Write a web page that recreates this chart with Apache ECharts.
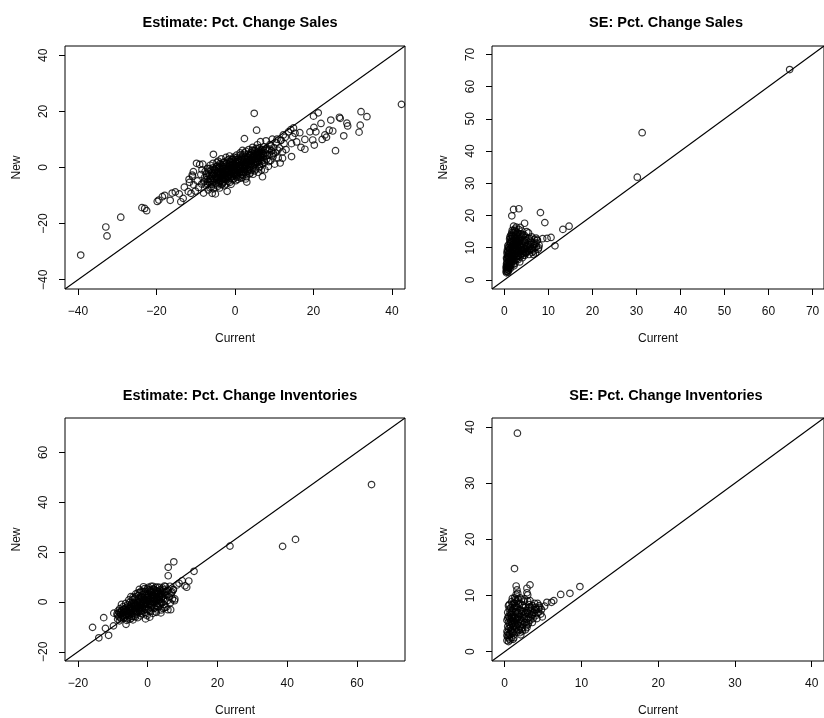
<!DOCTYPE html>
<html>
<head>
<meta charset="utf-8">
<script src="https://cdn.jsdelivr.net/npm/echarts@6/dist/echarts.min.js"></script>
<style>
html,body{margin:0;padding:0;background:#fff;}
#c{width:824px;height:718px;}
</style>
</head>
<body>
<div id="c"></div>
<script>
// ---- titles / axis names ----
const titles = ["Estimate: Pct. Change Sales", "SE: Pct. Change Sales", "Estimate: Pct. Change Inventories", "SE: Pct. Change Inventories"];
const xName = "Current";
const yName = "New";

// ---- axis limits (same for x and y in each panel) ----
const limits1 = [-43.3, 43.3];
const limits2 = [-2.8, 72.6];
const limits3 = [-23.7, 73.8];
const limits4 = [-1.65, 41.6];

// ---- tick values ----
const ticks1 = [-40, -20, 0, 20, 40];
const ticks2 = [0, 10, 20, 30, 40, 50, 60, 70];
const ticks3 = [-20, 0, 20, 40, 60];
const ticks4 = [0, 10, 20, 30, 40];

// ---- Panel 1: Estimate: Pct. Change Sales  [current, new] ----
const sales_est = [
[-39.3,-31.2],[-32.9,-21.2],[-32.6,-24.4],[-29.1,-17.7],[-23.7,-14.3],[-23.0,-14.6],[-22.5,-15.4],[-19.8,-12.1],[-19.4,-11.6],[-18.5,-10.4],[-17.9,-9.9],[-16.5,-11.7],[-16.0,-9.1],[-15.2,-8.7],[-13.8,-12.2],[-13.2,-11.0],[-14.2,-9.4],[-12.9,-7.0],[-11.7,-4.2],[-10.9,-2.7],[-9.8,1.5],[-9.0,1.1],[-10.6,-1.5],[-11.9,-8.6],[-11.2,-9.2],[-5.8,-9.2],
[-10.5,-6.2],[-10.1,-8.4],[-9.6,-4.8],[-9.3,-7.1],[-8.7,-2.5],[-8.5,-5.9],[-8.2,1.2],[-8.0,-9.1],[-7.8,-3.6],[-11.6,-5.3],[-10.8,-3.2],
[-7.6,-1.4],[-7.4,-6.3],[-7.1,-4.2],[-7.0,-0.3],[-6.8,-8.0],[-6.6,-2.8],[-6.5,-5.4],[-6.3,0.8],[-6.2,-3.9],[-6.0,-6.9],[-5.9,-1.9],[-5.8,-4.6],[-5.6,1.5],[-5.5,-7.6],[-5.4,-2.4],[-5.3,-5.1],[-5.2,-0.6],[-5.1,-3.3],[-5.0,-9.4],[-5.5,4.7],[-7.3,-2.1],[-6.9,-5.0],[-6.4,-7.2],[-6.1,-1.0],[-5.7,-3.0],[-7.9,-5.2],[-8.4,-0.8],
[-4.8,-1.2],[-4.7,-4.0],[-4.6,-6.2],[-4.5,0.6],[-4.4,-2.7],[-4.3,2.3],[-4.2,-5.0],[-4.1,-0.2],[-4.0,-3.6],[-3.9,-7.3],[-3.8,1.4],[-3.7,-1.9],[-3.6,-4.6],[-3.5,3.1],[-3.4,-0.8],[-3.3,-2.9],[-3.2,-5.8],[-3.1,0.4],[-3.0,-3.8],[-2.9,1.9],[-2.8,-1.5],[-2.7,-6.5],[-2.6,-2.4],[-2.5,0.9],[-2.4,-4.3],[-2.3,3.6],[-2.2,-0.5],[-2.1,-3.1],[-2.0,-8.5],[-4.9,-3.1],[-4.3,-1.7],[-3.7,-3.2],[-3.3,-1.3],[-2.9,-2.2],[-2.5,-3.5],[-4.6,1.8],[-3.9,0.0],[-3.0,-0.4],[-2.2,1.5],[-4.1,-5.6],[-2.8,-5.1],
[-1.9,-1.8],[-1.8,2.6],[-1.7,-4.9],[-1.6,0.2],[-1.5,-2.6],[-1.4,4.1],[-1.3,-0.9],[-1.2,-3.7],[-1.1,1.6],[-1.0,-6.0],[-0.9,-0.1],[-0.8,2.9],[-0.7,-2.1],[-0.6,-4.4],[-0.5,1.0],[-0.4,-1.2],[-0.3,3.7],[-0.2,-3.0],[-0.1,0.5],[0.0,-1.6],[0.1,2.1],[0.2,-4.7],[0.3,-0.3],[0.4,4.4],[0.5,-2.5],[0.6,1.3],[0.7,-1.0],[0.8,3.0],[0.9,-3.4],[1.0,0.1],[-1.6,-1.1],[-1.2,0.7],[-0.8,-1.5],[-0.4,0.3],[0.0,0.9],[0.4,-1.8],[0.8,0.6],[-1.9,-3.2],[-1.0,-2.6],[-0.1,-2.2],[0.6,-2.9],[-0.6,1.9],[0.2,2.8],[-1.4,1.2],
[1.1,-1.9],[1.2,2.4],[1.3,5.2],[1.4,-0.6],[1.5,-3.8],[1.6,1.1],[1.7,3.6],[1.8,-1.4],[1.9,0.5],[2.0,-2.8],[2.1,4.5],[2.2,1.9],[2.3,-0.2],[2.4,10.3],[2.5,2.9],[2.6,-1.8],[2.7,0.9],[2.8,5.8],[2.9,-3.3],[3.0,-5.2],[3.1,1.7],[3.2,3.9],[3.3,-0.7],[3.4,2.4],[3.5,6.4],[3.6,0.2],[3.7,-2.3],[3.8,4.7],[3.9,1.2],[1.3,0.4],[1.7,-2.5],[2.1,-0.9],[2.5,0.3],[2.9,2.0],[3.3,1.0],[3.7,2.8],[1.5,3.0],[2.3,3.3],[3.1,-1.4],[1.9,6.1],[2.7,-4.1],
[4.0,2.1],[4.1,-1.1],[4.2,5.3],[4.3,0.6],[4.4,3.5],[4.5,7.2],[4.6,-2.4],[4.7,1.6],[4.8,4.2],[4.9,19.3],[5.0,0.9],[5.1,6.0],[5.2,2.8],[5.3,-0.5],[5.4,4.9],[5.5,13.3],[5.6,1.9],[5.7,8.1],[5.8,3.4],[5.9,-1.7],[6.0,5.6],[6.1,2.4],[6.2,7.0],[6.3,0.3],[6.4,4.0],[6.5,9.2],[6.6,2.9],[6.7,-0.9],[6.8,5.0],[6.9,1.4],[7.0,-3.3],[4.3,2.7],[4.9,3.8],[5.5,3.1],[6.1,4.5],[4.6,5.9],[5.3,1.2],[5.9,6.6],[6.6,6.2],
[7.1,3.6],[7.3,7.4],[7.5,1.8],[7.7,5.2],[7.9,9.5],[8.1,3.0],[8.3,6.4],[8.5,0.4],[8.7,4.6],[8.9,8.2],[9.1,2.5],[9.3,5.9],[9.5,10.1],[9.7,3.9],[9.9,7.1],[10.1,1.2],[10.3,5.3],[10.5,8.8],[7.4,4.3],[8.0,6.9],[8.6,2.1],[9.2,7.6],[9.8,5.0],[7.6,-0.8],
[10.7,10.1],[11.0,3.4],[11.3,7.0],[11.7,9.7],[12.1,5.6],[12.1,3.3],[12.5,8.5],[12.8,10.8],[11.5,1.6],[12.3,11.6],[13.0,6.4],[10.9,6.2],[13.6,12.7],[15.3,12.2],[14.4,3.9],
[42.4,22.5],[32.1,19.9],[33.6,18.1],[31.9,15.1],[31.6,12.6],[28.5,15.8],[28.7,14.8],[26.6,17.9],[26.8,17.5],[24.4,16.9],[27.7,11.3],[25.6,6.0],[24.9,13.0],[24.0,13.3],[21.9,15.7],[21.2,19.5],[20.0,18.3],[20.1,14.3],[20.6,12.7],[19.1,12.7],[22.9,11.6],[22.2,10.0],[19.8,9.8],[17.8,10.0],[17.8,6.5],[16.8,7.2],[20.2,8.0],[14.7,11.0],[14.9,14.1],[14.2,13.5],[16.5,12.4],[11.7,9.7],[14.4,8.5],[15.7,9.1],[23.3,10.8],
[-7.7,-4.9],[-7.2,-3.1],[-6.7,-1.6],[-6.3,-4.4],[-5.9,-6.0],[-5.6,-2.1],[-5.3,-4.0],[-5.0,-0.9],[-4.8,-5.5],[-4.6,-2.3],[-4.4,-4.3],[-4.2,0.1],[-4.0,-1.5],[-3.8,-2.6],[-3.6,-0.4],[-3.4,-4.1],[-3.2,-2.0],[-3.0,-5.2],[-2.8,0.3],[-2.6,-3.9],[-2.4,-1.1],[-2.2,-2.7],[-2.0,0.6],[-1.8,-0.6],[-1.6,-3.4],[-1.4,-1.9],[-1.2,2.2],[-1.0,-0.4],[-0.8,-3.3],[-0.6,0.0],[-0.4,-2.4],[-0.2,1.4],[0.0,-0.5],[0.2,0.7],[0.4,-3.4],[0.6,2.3],[0.8,-0.6],[1.0,1.8],[1.2,-1.0],[1.4,0.9],[1.6,-0.3],[1.8,2.7],[2.0,0.0],[2.2,-1.6],[2.4,1.2],[2.6,3.8],[2.8,0.6],[3.0,2.6],[3.2,-0.5],[3.4,3.5],[3.6,1.6],[3.8,-0.8],[4.0,4.4],[4.2,1.3],[4.4,2.4],[4.6,0.2],[4.8,2.9],[5.0,4.8],[5.2,1.7],[5.4,3.3],[5.6,5.4],[5.8,2.0],[6.0,3.7],[6.2,1.0],[6.4,5.3],[6.6,3.9],[6.8,2.2],[7.0,6.4],[7.2,4.8],[7.4,2.7],[7.8,6.1],[8.2,4.4],[8.8,6.6],[9.4,4.4],
[-6.0,-3.0],[-5.2,-1.8],[-4.5,-3.5],[-3.8,-4.9],[-3.1,-3.0],[-2.4,-2.0],[-1.7,-1.4],[-1.0,0.3],[-0.3,-0.7],[0.3,1.6],[1.0,-1.0],[1.7,1.9],[2.4,-0.6],[3.1,3.2],[3.8,0.5],[4.5,4.0],[5.2,2.2],[5.9,4.3],[6.6,4.6],[-7.0,-6.0],[-6.6,-0.5],[-5.6,-0.1],[-4.7,0.3],[-3.5,0.9],[-2.6,1.9],[-1.5,3.0],[-0.5,3.0],[0.5,3.6],[1.4,4.5],[2.4,5.2],[3.4,4.8],[4.4,6.2],[5.4,6.8],[-4.4,-6.7],[-3.4,-6.1],[-2.3,-5.9],[-1.3,-5.3],[-0.3,-4.0],[0.7,-4.2],[1.8,-3.5],[2.8,-2.4],[3.9,-2.0],[5.0,-1.2],[6.0,-0.2]
];

// ---- Panel 2: SE: Pct. Change Sales ----
const sales_se = [
[64.8,65.3],[31.3,45.7],[30.2,31.9],[14.7,16.7],[13.3,15.7],[11.5,10.6],[10.6,13.2],[9.7,12.9],[8.7,12.8],[7.5,12.4],[8.2,20.9],[9.2,17.8],[3.3,22.1],[2.1,21.9],[1.7,19.9],[4.6,17.6],[7.8,10.0],[7.2,13.0],[2.1,16.7],
[0.4,2.6],[0.5,3.3],[0.6,2.9],[0.7,4.1],[0.5,5.0],[0.8,3.6],[0.9,5.6],[0.6,6.4],[0.7,7.8],[1.0,4.5],[0.8,8.9],[0.9,10.1],[1.0,6.9],[0.6,3.8],[0.8,2.4],[1.0,3.0],[0.9,7.4],[0.7,9.3],[1.1,11.2],[0.5,4.4],
[1.1,3.7],[1.2,5.2],[1.3,7.0],[1.4,8.6],[1.5,10.3],[1.6,12.1],[1.7,13.8],[1.8,15.4],[1.2,9.6],[1.3,4.4],[1.4,6.1],[1.5,11.5],[1.6,4.9],[1.7,7.7],[1.8,9.2],[1.9,11.0],[1.1,6.0],[1.9,6.5],[2.0,13.1],[1.5,14.0],[1.2,12.7],[1.4,3.6],[1.7,10.5],[1.9,8.0],[1.3,13.4],[2.0,4.9],
[2.1,5.8],[2.2,7.3],[2.3,9.0],[2.4,10.8],[2.5,12.4],[2.6,14.2],[2.7,16.4],[2.8,6.6],[2.9,8.4],[3.0,11.6],[2.2,15.3],[2.4,5.1],[2.6,9.7],[2.8,13.0],[3.0,7.5],[2.1,11.9],[2.3,13.7],[2.5,8.0],[2.7,11.1],[2.9,14.8],[2.2,4.4],[2.6,6.2],[3.0,9.4],[2.4,15.8],
[3.1,6.3],[3.2,8.8],[3.3,10.5],[3.4,12.2],[3.5,14.1],[3.6,7.2],[3.7,9.6],[3.8,11.4],[3.9,13.4],[4.0,15.2],[4.1,6.9],[4.2,8.3],[4.3,10.1],[4.4,12.0],[4.5,14.0],[3.3,15.7],[3.6,16.3],[3.5,5.6],[4.0,9.3],[3.2,11.8],[4.2,11.3],[3.8,7.9],[4.4,8.9],
[4.6,7.6],[4.7,9.8],[4.8,11.7],[4.9,13.3],[5.0,8.5],[5.2,10.4],[5.4,12.8],[5.5,14.6],[5.6,7.9],[5.8,9.3],[6.0,11.0],[6.2,13.4],[6.3,8.6],[6.5,10.2],[5.1,15.0],[5.3,9.1],[5.9,12.1],[4.8,8.2],[6.1,9.8],
[6.7,9.0],[6.9,11.3],[7.1,8.4],[7.3,10.3],[7.5,12.3],[7.7,9.5],[6.8,12.6],[7.9,10.8],[6.6,7.9],
[0.4,3.9],[0.5,2.2],[0.6,5.5],[0.7,6.9],[0.8,5.1],[0.9,4.0],[1.0,8.3],[0.6,8.5],[0.8,7.2],[0.5,6.8],[0.7,2.6],[0.9,3.2],[1.0,10.0],[0.8,10.6],[1.1,8.1],[1.2,7.4],[1.3,9.8],[1.4,11.4],[1.5,6.7],[1.6,8.4],[1.7,5.9],[1.8,11.9],[1.9,13.6],[2.0,7.0],[2.1,9.6],[2.2,11.0],[2.3,6.2],[2.4,12.9],[2.5,10.3],[2.6,12.0],[2.7,7.4],[2.8,9.0],[2.9,10.7],[3.0,13.5],[3.1,9.9],[3.2,7.4],[3.3,12.8],[3.4,9.2],[3.5,10.9],[3.6,13.0],[3.7,8.1],[3.8,14.3],[3.9,10.2],[4.0,12.2],[4.1,9.2],[4.2,13.9],[4.3,7.7],[4.4,10.8],[4.5,9.5],[4.6,12.5],[4.7,8.6],[4.9,10.3],[5.0,12.3],[5.2,8.9],[5.4,10.9],[5.6,9.6],[5.7,13.0],[5.9,10.4],[6.1,11.7],[6.3,9.4],[6.6,11.2],[6.9,10.0],[7.2,11.5],[1.2,4.1],[1.4,5.1],[1.6,6.6],[1.8,7.5],[2.0,10.1],[2.2,8.6],[2.4,9.3],[2.6,11.4],[2.8,11.8],[1.1,9.1],[1.3,11.9],[1.5,12.8],[1.7,14.7],[2.1,14.5],[2.5,15.1],[2.9,12.2],[3.1,14.5]
];

// ---- Panel 3: Estimate: Pct. Change Inventories ----
const inv_est = [
[64.2,47.1],[42.4,25.1],[38.7,22.3],[23.6,22.4],[13.3,12.3],[11.8,8.4],[11.2,5.9],[9.9,8.5],[9.0,7.5],[8.4,6.8],[7.5,16.1],[5.9,13.9],[5.9,10.5],[7.8,1.2],[6.6,-3.1],[7.3,4.8],[6.4,3.2],[10.7,6.5],[4.9,-2.2],[2.5,-4.2],
[-15.8,-10.2],[-14.0,-14.4],[-12.6,-6.3],[-12.1,-10.6],[-11.2,-13.4],[-9.8,-9.6],[-9.7,-4.5],[-6.2,-9.0],[-8.6,-6.9],
[-8.8,-4.8],[-8.5,-3.6],[-8.3,-5.9],[-8.0,-2.7],[-7.8,-4.5],[-7.6,-6.8],[-7.4,-3.3],[-7.2,-5.4],[-7.0,-1.9],[-6.8,-4.0],[-6.6,-6.2],[-6.4,-2.5],[-6.2,-4.9],[-6.0,-7.4],[-8.1,-7.6],[-7.5,-1.0],[-6.9,-3.0],[-6.3,-0.6],
[-5.9,-3.6],[-5.7,-1.2],[-5.5,-5.3],[-5.3,-2.8],[-5.1,-0.1],[-4.9,-4.4],[-4.7,-6.5],[-4.5,-1.9],[-4.3,0.9],[-4.1,-3.7],[-3.9,-5.8],[-3.7,-0.8],[-3.5,2.0],[-3.3,-2.9],[-3.1,-4.9],[-5.8,-6.9],[-5.0,-2.2],[-4.4,-3.0],[-3.8,1.3],[-3.2,-1.5],[-5.4,0.8],[-4.2,-7.2],[-3.6,-3.9],[-4.8,2.1],[-3.4,3.2],
[-2.9,-0.3],[-2.7,2.6],[-2.5,-3.4],[-2.3,0.7],[-2.1,-5.6],[-1.9,-1.6],[-1.7,1.8],[-1.5,-2.7],[-1.3,4.1],[-1.1,-0.6],[-0.9,-4.2],[-0.7,2.4],[-0.5,-1.9],[-0.3,0.4],[-0.1,5.2],[-2.8,-6.3],[-2.2,3.7],[-1.6,-4.8],[-1.0,1.1],[-0.4,-3.1],[-2.6,-1.7],[-2.0,0.1],[-1.4,-0.9],[-0.8,3.3],[-0.2,-5.5],[-2.4,5.0],[-1.2,6.1],[-0.6,-6.8],[-1.8,-3.6],
[0.1,-0.9],[0.3,2.8],[0.5,-3.5],[0.7,1.0],[0.9,4.5],[1.1,-1.7],[1.3,2.0],[1.5,-4.6],[1.7,0.3],[1.9,3.6],[2.1,-2.3],[2.3,5.9],[2.5,1.4],[2.7,-0.6],[2.9,3.0],[0.2,5.9],[0.6,-6.1],[1.0,6.3],[1.4,-0.2],[1.8,5.0],[2.2,-4.0],[2.6,4.3],[0.4,0.2],[0.8,-2.2],[1.2,3.9],[1.6,1.6],[2.0,0.8],[2.4,-1.4],[2.8,6.0],[0.0,1.7],
[3.1,-1.9],[3.3,2.2],[3.5,4.8],[3.7,0.0],[3.9,-3.2],[4.1,3.1],[4.3,5.6],[4.5,1.3],[4.7,-1.0],[4.9,3.9],[5.1,6.2],[5.3,-2.1],[5.5,2.6],[5.7,0.6],[5.9,4.6],[3.4,5.9],[3.8,-4.4],[4.4,-2.6],[5.0,0.9],[5.8,-3.1],[3.2,0.9],[4.0,1.8],[4.8,6.4],
[6.2,2.0],[6.5,-0.3],[6.8,3.6],[7.1,1.2],[7.4,5.0],[7.7,0.5],[6.4,6.3],[7.0,4.0],
[-8.6,-5.2],[-8.2,-4.2],[-7.9,-6.2],[-7.6,-3.8],[-7.3,-5.9],[-7.0,-4.6],[-6.7,-2.9],[-6.4,-5.6],[-6.1,-3.3],[-5.8,-4.8],[-5.6,-2.0],[-5.3,-6.1],[-5.0,-3.6],[-4.8,-1.2],[-4.6,-4.9],[-4.3,-2.6],[-4.0,-0.4],[-3.8,-3.3],[-3.5,-1.3],[-3.3,-4.4],[-3.0,0.6],[-2.8,-2.6],[-2.6,1.4],[-2.4,-0.8],[-2.2,-3.8],[-2.0,2.0],[-1.8,-0.2],[-1.6,-2.2],[-1.4,2.9],[-1.2,-1.4],[-1.0,0.6],[-0.8,-2.8],[-0.6,4.2],[-0.4,1.5],[-0.2,-0.9],[0.0,3.4],[0.2,-2.9],[0.4,2.2],[0.6,-0.5],[0.8,4.0],[1.0,1.5],[1.2,-1.1],[1.4,3.0],[1.6,5.2],[1.8,-2.6],[2.0,2.5],[2.2,4.6],[2.4,0.2],[2.6,2.0],[2.8,-1.8],[3.0,4.2],[3.2,3.2],[3.4,1.2],[3.6,-1.3],[3.8,3.6],[4.0,-0.3],[4.2,2.3],[4.6,4.8],[5.0,2.8],[5.4,4.2],
[-7.7,-5.0],[-6.9,-6.5],[-6.0,-5.5],[-5.2,-4.2],[-4.5,-5.8],[-3.7,-2.0],[-2.9,-4.1],[-2.1,-1.4],[-1.3,0.2],[-0.5,-0.3],[0.3,0.9],[1.1,0.3],[1.9,1.4],[2.7,1.0],[3.5,2.6],[4.3,4.3],[-6.5,-4.0],[-5.5,-2.9],[-4.6,-0.7],[-3.9,-1.5],[-3.0,-2.1],[-2.3,-2.3],[-1.5,1.0],[-0.7,-1.0],[0.1,2.7],[0.9,-0.8],[1.7,2.5],[2.5,3.3],[3.3,-0.7],[-4.2,1.9],[-2.8,3.6],[-1.9,4.3],[-0.9,5.3],[0.5,4.8],[1.5,6.3],[-5.0,-6.9],[-3.5,-6.0],[-1.9,-4.5],[-0.5,-4.8],[0.9,-3.9]
];

// ---- Panel 4: SE: Pct. Change Inventories ----
const inv_se = [
[1.66,38.9],[1.28,14.8],[9.8,11.6],[8.5,10.4],[7.3,10.2],[6.4,9.1],[6.1,8.8],[5.5,8.8],[3.3,11.9],[2.9,11.3],[2.9,10.5],[3.0,10.1],[1.5,11.7],[1.6,11.0],[1.7,10.4],[2.3,3.7],[2.9,4.3],[4.6,7.9],[3.6,5.2],[5.2,8.1],
[0.3,2.0],[0.4,2.6],[0.5,1.8],[0.6,2.3],[0.4,3.4],[0.5,4.1],[0.6,4.9],[0.7,3.0],[0.3,5.6],[0.5,6.3],[0.7,5.8],[0.8,3.8],[0.4,7.0],[0.6,7.6],[0.8,6.6],[0.3,2.9],[0.7,2.1],[0.5,8.2],
[0.9,2.5],[1.0,3.3],[1.1,4.4],[1.2,5.2],[1.3,6.0],[1.4,7.1],[1.5,8.0],[0.9,8.9],[1.0,9.5],[1.1,6.5],[1.2,3.0],[1.3,7.8],[1.4,4.7],[1.5,5.6],[0.9,5.0],[1.0,7.3],[1.2,8.7],[1.4,9.3],[1.1,2.2],[1.3,3.9],[1.5,10.2],[1.0,6.0],
[1.6,3.5],[1.7,4.8],[1.8,6.2],[1.9,7.4],[2.0,8.5],[2.1,5.3],[2.2,6.8],[2.3,4.3],[2.4,7.9],[2.5,5.9],[1.6,9.0],[1.8,4.0],[2.0,3.4],[2.2,9.3],[1.7,7.0],[1.9,5.7],[2.3,7.2],[2.5,9.0],[2.1,3.0],[2.4,4.9],
[2.6,6.6],[2.7,8.0],[2.8,5.2],[2.9,7.3],[3.0,9.0],[3.1,6.0],[3.2,8.4],[3.3,5.6],[3.4,7.4],[3.5,6.6],[2.8,4.6],[3.0,4.8],[3.3,9.1],[2.7,3.9],[3.1,7.8],
[3.6,8.2],[3.7,5.9],[3.8,7.0],[3.9,8.6],[4.0,6.4],[4.1,7.6],[4.2,5.9],[4.4,7.0],[4.5,8.2],[4.7,6.7],[4.8,7.5],[4.9,6.2],[3.6,6.5],[4.3,8.6],
[0.3,3.6],[0.4,4.5],[0.5,5.3],[0.6,6.1],[0.7,6.9],[0.4,6.0],[0.6,3.2],[0.8,4.6],[0.5,2.9],[0.7,4.3],[0.9,6.1],[0.8,7.8],[0.6,8.4],[0.9,3.6],[1.0,4.9],[1.1,5.5],[1.2,6.3],[1.3,5.0],[1.4,6.0],[1.5,7.2],[1.0,8.3],[1.1,7.7],[1.2,4.6],[1.3,8.6],[1.4,8.2],[1.5,4.4],[1.6,5.8],[1.7,6.1],[1.8,5.1],[1.9,6.6],[2.0,5.8],[2.1,7.4],[2.2,5.6],[2.3,8.3],[2.4,6.3],[2.5,7.2],[1.6,7.9],[1.8,8.6],[2.0,4.4],[2.2,4.0],[2.6,5.2],[2.7,6.9],[2.8,6.2],[2.9,5.8],[3.0,7.0],[3.1,5.1],[3.2,6.7],[3.3,7.9],[3.4,6.1],[3.5,7.8],[3.7,6.9],[3.9,7.4],[4.0,7.9],[4.2,6.8],[4.4,7.6],[1.1,3.4],[0.9,7.0],[1.3,9.6],[1.7,9.4],[2.0,9.6],[2.6,9.4],[1.9,3.8],[1.2,2.5],[0.8,5.4]
];

// ---- build ----
const panels = [
  {data: sales_est, lim: limits1, xt: ticks1, yt: ticks1, rect: {left: 65, top: 46, width: 340, height: 243}, tx: 235, ty: 10},
  {data: sales_se,  lim: limits2, xt: ticks2, yt: ticks2, rect: {left: 492, top: 46, width: 338, height: 243}, tx: 661, ty: 10},
  {data: inv_est,   lim: limits3, xt: ticks3, yt: ticks3, rect: {left: 65, top: 418, width: 340, height: 244}, tx: 235, ty: 383},
  {data: inv_se,    lim: limits4, xt: ticks4, yt: ticks4, rect: {left: 492, top: 418, width: 338, height: 244}, tx: 661, ty: 383}
];

const FONT = "'Liberation Sans', Arial, Helvetica, sans-serif";
const fmt = v => String(v).replace('-', '\u2212');

const option = {
  animation: false,
  backgroundColor: '#fff',
  title: [], grid: [], xAxis: [], yAxis: [], series: []
};

panels.forEach((p, i) => {
  option.title.push({
    text: titles[i], left: p.tx, top: p.ty, textAlign: 'center',
    textStyle: {fontFamily: FONT, fontSize: 14.5, fontWeight: 'bold', color: '#000'}
  });
  option.grid.push(Object.assign({show: true, borderColor: '#000', borderWidth: 1, backgroundColor: 'transparent'}, p.rect));
  const common = {
    type: 'value', gridIndex: i, min: p.lim[0], max: p.lim[1],
    splitLine: {show: false},
    axisLine: {show: false, onZero: false}
  };
  option.xAxis.push(Object.assign({}, common, {
    position: 'bottom',
    name: xName, nameLocation: 'middle', nameGap: 44,
    nameTextStyle: {fontFamily: FONT, fontSize: 12, color: '#111'},
    axisTick: {show: true, inside: false, length: 6, customValues: p.xt, lineStyle: {color: '#000'}},
    axisLabel: {show: true, margin: 17, customValues: p.xt, formatter: fmt, fontFamily: FONT, fontSize: 12, color: '#111'}
  }));
  option.yAxis.push(Object.assign({}, common, {
    position: 'left',
    name: yName, nameLocation: 'middle', nameGap: 42, nameRotate: 90,
    nameTextStyle: {fontFamily: FONT, fontSize: 12, color: '#111'},
    axisTick: {show: true, inside: false, length: 6, customValues: p.yt, lineStyle: {color: '#000'}},
    axisLabel: {show: true, margin: 15, rotate: 90, customValues: p.yt, formatter: fmt, fontFamily: FONT, fontSize: 12, color: '#111'}
  }));
  option.series.push({
    type: 'scatter', xAxisIndex: i, yAxisIndex: i, data: p.data,
    symbol: 'circle', symbolSize: 6.5, silent: true,
    itemStyle: {color: 'rgba(0,0,0,0)', borderColor: '#000', borderWidth: 1.2}
  });
  option.series.push({
    type: 'line', xAxisIndex: i, yAxisIndex: i,
    data: [[p.lim[0], p.lim[0]], [p.lim[1], p.lim[1]]],
    symbol: 'none', silent: true,
    lineStyle: {color: '#000', width: 1.1}
  });
});

const chart = echarts.init(document.getElementById('c'), null, {renderer: 'canvas'});
chart.setOption(option);
</script>
</body>
</html>
